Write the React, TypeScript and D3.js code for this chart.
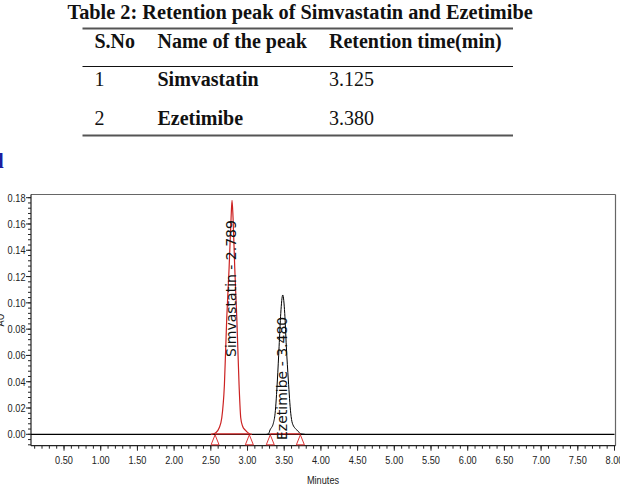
import React from "react";
import * as d3 from "d3";

// ---------- table content ----------
const tableTitle = "Table 2: Retention peak of Simvastatin and Ezetimibe";
const tableHeaders = ["S.No", "Name of the peak", "Retention time(min)"];
const tableSNo = ["1", "2"];
const tablePeakNames = ["Simvastatin", "Ezetimibe"];
const tableRetention = ["3.125", "3.380"];

// ---------- chromatogram data (minutes, AU) ----------
const simvTime = [2.5, 2.53, 2.572, 2.613, 2.649, 2.685, 2.717, 2.749, 2.776, 2.789, 2.803, 2.826, 2.854, 2.885, 2.908, 2.932, 2.967, 3.021, 3.06];
const simvAU = [0, 0.0003, 0.0014, 0.0048, 0.0124, 0.0375, 0.0884, 0.1265, 0.1646, 0.178, 0.1646, 0.1265, 0.0884, 0.0375, 0.0124, 0.0063, 0.0033, 0.0006, 0];
const ezeTime = [3.26, 3.284, 3.307, 3.352, 3.376, 3.407, 3.43, 3.453, 3.48, 3.507, 3.529, 3.556, 3.589, 3.611, 3.671, 3.74, 3.78];
const ezeAU = [0, 0.0002, 0.0033, 0.0084, 0.016, 0.0413, 0.0666, 0.092, 0.106, 0.092, 0.0666, 0.0413, 0.016, 0.0084, 0.0033, 0.0002, 0];
const baseTime = [0.05, 8.0];
const baseAU = [0, 0];

const peakNames = ["Simvastatin - 2.789", "Ezetimibe - 3.480"];
const peakApexTime = [2.789, 3.48];
const peakStart = [2.558, 3.31];
const peakEnd = [3.025, 3.72];

const yMajorTicks = [0, 0.02, 0.04, 0.06, 0.08, 0.1, 0.12, 0.14, 0.16, 0.18];
const xMajorTicks = [0.5, 1.0, 1.5, 2.0, 2.5, 3.0, 3.5, 4.0, 4.5, 5.0, 5.5, 6.0, 6.5, 7.0, 7.5, 8.0];

const W = 620;
const H = 498;
const left = 31;
const right = 615.5;
const top = 194.5;
const bottom = 445.7;

const tickFont = "'Liberation Sans', Arial, sans-serif";
const serif = "'Liberation Serif', 'Times New Roman', serif";

function Narrow({ x, y, anchor, children, rotate }: { x: number; y: number; anchor: string; children: React.ReactNode; rotate?: boolean }) {
  return (
    <text
      transform={`translate(${x},${y})${rotate ? " rotate(-90)" : ""} scale(0.8,1)`}
      textAnchor={anchor}
      fontFamily={tickFont}
      fontSize={11.5}
      fill="#222"
    >
      {children}
    </text>
  );
}

export default function App() {
  const x = d3.scaleLinear().domain([0.05, 8.0]).range([left, 614.5]);
  const y = d3.scaleLinear().domain([0, 0.18]).range([434.3, 197.7]);

  const line = d3
    .line<[number, number]>()
    .x((d) => x(d[0]))
    .y((d) => y(d[1]))
    .curve(d3.curveMonotoneX);

  const zip = (a: number[], b: number[]) => a.map((t, i) => [t, b[i]] as [number, number]);

  const yMinor = d3.range(-8, 181, 4).map((v) => v / 1000).filter((v) => y(v) <= bottom + 0.5 && y(v) >= top);
  const xMinor = d3.range(1, 81, 1).map((v) => v / 10);

  const colX = [94.5, 157.5, 329];
  const rowY = [86, 125];

  return (
    <svg width={W} height={H} style={{ position: "absolute", left: 0, top: 0, background: "#fff" }}>
      <rect x={0} y={0} width={W} height={H} fill="#fff" />
      {/* Table */}
      <text x={67.5} y={19} fontFamily={serif} fontWeight="bold" fontSize={20.3} fill="#111">
        {tableTitle}
      </text>
      <line x1={82.5} x2={513} y1={28.5} y2={28.5} stroke="#555" strokeWidth={2} />
      {tableHeaders.map((h, i) => (
        <text key={h} x={colX[i]} y={48} fontFamily={serif} fontWeight="bold" fontSize={20} fill="#111">
          {h}
        </text>
      ))}
      <line x1={82.5} x2={513} y1={66.5} y2={66.5} stroke="#111" strokeWidth={1.2} />
      {tableSNo.map((s, i) => (
        <g key={s}>
          <text x={colX[0]} y={rowY[i]} fontFamily={serif} fontSize={20} fill="#111">{s}</text>
          <text x={colX[1]} y={rowY[i]} fontFamily={serif} fontWeight="bold" fontSize={20} fill="#111">{tablePeakNames[i]}</text>
          <text x={colX[2]} y={rowY[i]} fontFamily={serif} fontSize={20} fill="#111">{tableRetention[i]}</text>
        </g>
      ))}
      <line x1={82.5} x2={513} y1={135.5} y2={135.5} stroke="#555" strokeWidth={2} />

      {/* clipped blue letter */}
      <text x={3.5} y={168} textAnchor="end" fontFamily={serif} fontWeight="bold" fontSize={20} fill="#1c1ca0">d</text>

      {/* Frame */}
      <line x1={left} x2={right} y1={top} y2={top} stroke="#666" strokeWidth={1.2} />
      <line x1={right} x2={right} y1={top} y2={bottom} stroke="#666" strokeWidth={1.2} />

      {/* Y axis */}
      {yMinor.map((v) => (
        <line key={"ym" + v} x1={left - 3} x2={left} y1={y(v)} y2={y(v)} stroke="#222" strokeWidth={1} />
      ))}
      {yMajorTicks.map((v) => (
        <g key={"yM" + v}>
          <line x1={left - 5} x2={left} y1={y(v)} y2={y(v)} stroke="#222" strokeWidth={1} />
          <Narrow x={left - 5.5} y={y(v) + 4} anchor="end">{v.toFixed(2)}</Narrow>
        </g>
      ))}
      <line x1={left} x2={left} y1={top} y2={bottom} stroke="#222" strokeWidth={1.2} />
      <Narrow x={3.5} y={320} anchor="middle" rotate>AU</Narrow>

      {/* X axis */}
      {xMinor.map((v) => (
        <line key={"xm" + v} x1={x(v)} x2={x(v)} y1={bottom} y2={bottom + 3} stroke="#222" strokeWidth={1} />
      ))}
      {xMajorTicks.map((v) => (
        <g key={"xM" + v}>
          <line x1={x(v)} x2={x(v)} y1={bottom} y2={bottom + 5} stroke="#222" strokeWidth={1} />
          <Narrow x={x(v)} y={464} anchor="middle">{v.toFixed(2)}</Narrow>
        </g>
      ))}
      <line x1={left} x2={right} y1={bottom} y2={bottom} stroke="#222" strokeWidth={1.2} />
      <Narrow x={323} y={484} anchor="middle">Minutes</Narrow>

      {/* Trace */}
      <path d={line(zip(baseTime, baseAU)) || ""} fill="none" stroke="#000" strokeWidth={1.2} />
      <path d={line(zip(ezeTime, ezeAU)) || ""} fill="none" stroke="#000" strokeWidth={1} />
      <path d={line(zip(simvTime, simvAU)) || ""} fill="none" stroke="#cc2222" strokeWidth={1.2} />

      {/* integration baselines and markers */}
      {peakStart.map((s, i) => (
        <g key={"pk" + i}>
          <line x1={x(s)} x2={x(peakEnd[i])} y1={y(0) - 0.5} y2={y(0) - 0.5} stroke="#dd3333" strokeWidth={1.2} />
          {[s, peakEnd[i]].map((t, j) => (
            <path
              key={j}
              d={`M${x(t)},${y(0) + 0.5} L${x(t) - 4},${y(0) + 10.5} L${x(t) + 4},${y(0) + 10.5} Z`}
              fill="#fff"
              stroke="#dd3333"
              strokeWidth={1}
            />
          ))}
        </g>
      ))}

      {/* peak labels */}
      {peakNames.map((n, i) => {
        const cx = x(peakApexTime[i]) - 0.5;
        const sy = i === 0 ? 357 : 440;
        return (
          <text
            key={n}
            x={cx}
            y={sy}
            dy="0.35em"
            transform={`rotate(-90,${cx},${sy})`}
            fontFamily="'DejaVu Sans', sans-serif"
            fontSize={14}
            fill="#111"
          >
            {n}
          </text>
        );
      })}
    </svg>
  );
}
